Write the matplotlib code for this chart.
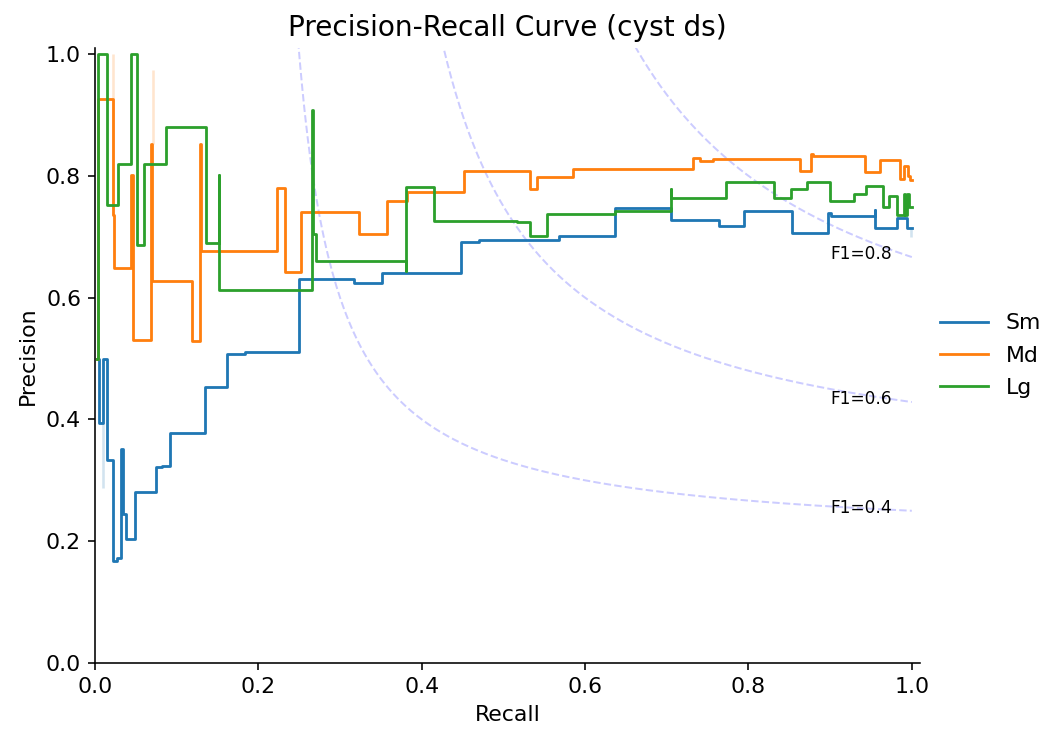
import numpy as np
import matplotlib
matplotlib.use("Agg")
import matplotlib.pyplot as plt

# ---------------- data ----------------
labels = ["Sm", "Md", "Lg"]
colors = ["#1f77b4", "#ff7f0e", "#2ca02c"]

sm_recall = [0.004, 0.0049, 0.0102, 0.0143, 0.0145, 0.0225, 0.0266, 0.0319, 0.0347, 0.0376,
             0.049, 0.0743, 0.0817, 0.0919, 0.1347, 0.162, 0.1837, 0.25, 0.3176, 0.351,
             0.448, 0.470, 0.5675, 0.637, 0.7055, 0.7635, 0.794, 0.853, 0.8975, 0.901,
             0.9545, 0.9548, 0.982, 0.9945, 1.0]
sm_precision = [0.5, 0.394, 0.5, 0.428, 0.334, 0.167, 0.172, 0.351, 0.244, 0.204,
                0.281, 0.322, 0.324, 0.377, 0.4525, 0.507, 0.51, 0.631, 0.624, 0.641,
                0.691, 0.695, 0.702, 0.7475, 0.727, 0.718, 0.7425, 0.706, 0.739, 0.734,
                0.744, 0.7145, 0.731, 0.7145, 0.7145]

md_recall = [0.003, 0.004, 0.0225, 0.0227, 0.0437, 0.046, 0.0686, 0.0703, 0.1184, 0.1286,
             0.1293, 0.2233, 0.2327, 0.2523, 0.3233, 0.358, 0.3825, 0.4523, 0.532, 0.541,
             0.585, 0.732, 0.741, 0.757, 0.8634, 0.8765, 0.879, 0.943, 0.9614, 0.986,
             0.991, 0.995, 0.998, 1.0]
md_precision = [0.5, 0.926, 0.735, 0.648, 0.802, 0.531, 0.852, 0.627, 0.529, 0.852,
                0.676, 0.780, 0.642, 0.740, 0.705, 0.759, 0.774, 0.808, 0.778, 0.798,
                0.8105, 0.830, 0.824, 0.8275, 0.808, 0.836, 0.833, 0.807, 0.826, 0.7945,
                0.816, 0.80, 0.793, 0.793]

lg_recall = [0.003, 0.004, 0.015, 0.0285, 0.0437, 0.052, 0.060, 0.0865, 0.1355, 0.152,
             0.1522, 0.266, 0.2665, 0.271, 0.381, 0.3812, 0.4145, 0.5165, 0.532, 0.553,
             0.637, 0.705, 0.7052, 0.772, 0.8315, 0.852, 0.8715, 0.900, 0.929, 0.944,
             0.9645, 0.972, 0.982, 0.991, 0.9915, 0.994, 0.997, 1.0]
lg_precision = [0.5, 1.0, 0.752, 0.82, 1.0, 0.686, 0.82, 0.881, 0.690, 0.802,
                0.613, 0.908, 0.705, 0.660, 0.643, 0.782, 0.726, 0.724, 0.701, 0.738,
                0.742, 0.778, 0.764, 0.790, 0.764, 0.778, 0.790, 0.759, 0.771, 0.783,
                0.749, 0.767, 0.735, 0.771, 0.735, 0.771, 0.749, 0.749]

# faint (raw) precision excursions: recall, low, high, series index
faint_recall = [0.0098, 0.0216, 0.0706, 0.999]
faint_low = [0.288, 0.735, 0.852, 0.700]
faint_high = [0.394, 1.0, 0.974, 0.714]
faint_series = [0, 1, 1, 0]

f_scores = [0.4, 0.6, 0.8]

# ---------------- figure ----------------
W, H, DPI = 1045, 731, 144
fig = plt.figure(figsize=(W / DPI, H / DPI), dpi=DPI)
ax = fig.add_axes([95 / W, 1 - 663 / H, (920 - 95) / W, (663 - 48) / H])

# iso-F1 curves
for f in f_scores:
    x = np.linspace(0.01, 1, 400)
    y = f * x / (2 * x - f)
    m = (y >= 0)
    ax.plot(x[m], y[m], color="blue", alpha=0.2, lw=1.0, ls="--", zorder=1)
    ax.text(0.9, f / (2 - f) - 0.003, f"F1={f:0.1f}", fontsize=8.5, va="baseline", ha="left")

# faint raw excursions
for xr, lo, hi, s in zip(faint_recall, faint_low, faint_high, faint_series):
    ax.vlines(xr, lo, hi, color=colors[s], alpha=0.2, lw=1.3, zorder=2)

series = [(sm_recall, sm_precision), (md_recall, md_precision), (lg_recall, lg_precision)]
for (r, p), c, lab in zip(series, colors, labels):
    ax.plot(r, p, drawstyle="steps-post", color=c, lw=1.4, label=lab, zorder=3)

ax.set_xlim(0, 1.01)
ax.set_ylim(0, 1.01)
ax.set_xticks([0, 0.2, 0.4, 0.6, 0.8, 1.0])
ax.set_yticks([0, 0.2, 0.4, 0.6, 0.8, 1.0])
ax.spines["top"].set_visible(False)
ax.spines["right"].set_visible(False)
ax.tick_params(labelsize=11)
ax.set_xlabel("Recall", fontsize=11)
ax.set_ylabel("Precision", fontsize=11)
ax.set_title("Precision-Recall Curve (cyst ds)", fontsize=14)

ax.legend(loc="center left", bbox_to_anchor=(1.0, 0.5), frameon=False, fontsize=11,
          handlelength=2.2, labelspacing=0.55)

fig.savefig("out.png", dpi=DPI)
